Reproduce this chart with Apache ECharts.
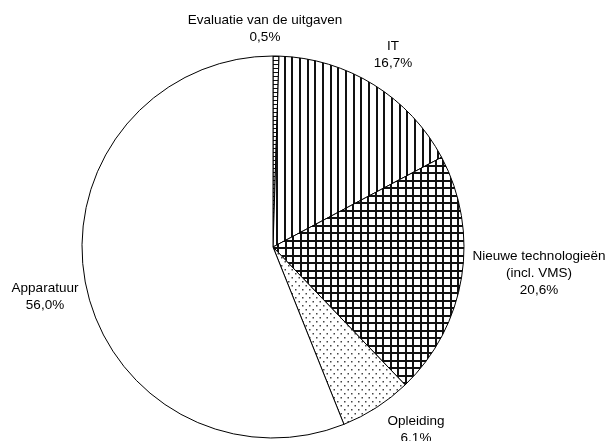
<!DOCTYPE html>
<html>
<head>
<meta charset="utf-8">
<script src="https://cdn.jsdelivr.net/npm/echarts@6/dist/echarts.min.js"></script>
<style>
html, body { margin: 0; padding: 0; background: #fff; }
#chart { width: 609px; height: 441px; }
</style>
</head>
<body>
<div id="chart"></div>
<script>
var categories = ['Evaluatie van de uitgaven', 'IT', 'Nieuwe technologieën\n(incl. VMS)', 'Opleiding', 'Apparatuur'];
var shares = [0.5, 16.7, 20.6, 6.1, 56.0];
// label anchors (centre of each text block)
var labelX = [265, 393, 539, 416, 45];
var labelY = [29, 55, 273, 430, 297];

function makePattern(kind) {
	var c = document.createElement('canvas');
	var ctx;
	if (kind == 'vlines') {
		c.width = 23; c.height = 8;
		ctx = c.getContext('2d');
		ctx.fillStyle = '#fff'; ctx.fillRect(0, 0, c.width, c.height);
		ctx.fillStyle = '#111';
		[0, 8, 15].forEach(function (x) { ctx.fillRect(x, 0, 2, c.height); });
	} else if (kind == 'grid') {
		c.width = 15; c.height = 15;
		ctx = c.getContext('2d');
		ctx.fillStyle = '#fff'; ctx.fillRect(0, 0, c.width, c.height);
		ctx.fillStyle = '#111';
		[0, 7].forEach(function (p) {
			ctx.fillRect(p, 0, 2, c.height);
			ctx.fillRect(0, p, c.width, 2);
		});
	} else if (kind == 'dots') {
		c.width = 7; c.height = 8;
		ctx = c.getContext('2d');
		ctx.fillStyle = '#fff'; ctx.fillRect(0, 0, c.width, c.height);
		ctx.fillStyle = '#444';
		ctx.fillRect(1, 1, 1.5, 1.5);
		ctx.fillRect(4.5, 5, 1.5, 1.5);
	} else if (kind == 'bricks') {
		c.width = 8; c.height = 4;
		ctx = c.getContext('2d');
		ctx.fillStyle = '#fff'; ctx.fillRect(0, 0, c.width, c.height);
		ctx.fillStyle = '#111';
		ctx.fillRect(0, 0, c.width, 1);
		ctx.fillRect(0, 0, 1, c.height);
	} else {
		c.width = 4; c.height = 4;
		ctx = c.getContext('2d');
		ctx.fillStyle = '#fff'; ctx.fillRect(0, 0, 4, 4);
	}
	return { image: c, repeat: 'repeat' };
}

var patterns = ['bricks', 'vlines', 'grid', 'dots', 'plain'];
var pieData = [];
for (var i = 0; i < categories.length; i++) {
	pieData.push({
		name: categories[i],
		value: shares[i],
		itemStyle: { color: makePattern(patterns[i]) }
	});
}

var pieChart = echarts.init(document.getElementById('chart'));
var option = {
	animation: false,
	backgroundColor: '#fff',
	series: [{
		type: 'pie',
		center: [273, 247],
		radius: 191,
		startAngle: 90,
		clockwise: true,
		data: pieData,
		itemStyle: { borderColor: '#000', borderWidth: 1 },
		emphasis: { disabled: true },
		labelLine: { show: false },
		label: {
			show: true,
			position: 'outside',
			color: '#000',
			fontFamily: 'Liberation Sans, Arial, sans-serif',
			fontSize: 13.5,
			lineHeight: 17,
			align: 'center',
			overflow: 'none',
			edgeDistance: 0,
			formatter: function (p) {
				return p.name + '\n' + p.value.toFixed(1).replace('.', ',') + '%';
			}
		},
		labelLayout: function (p) {
			return {
				x: labelX[p.dataIndex],
				y: labelY[p.dataIndex],
				align: 'center',
				verticalAlign: 'middle'
			};
		}
	}]
};
pieChart.setOption(option);
</script>
</body>
</html>
